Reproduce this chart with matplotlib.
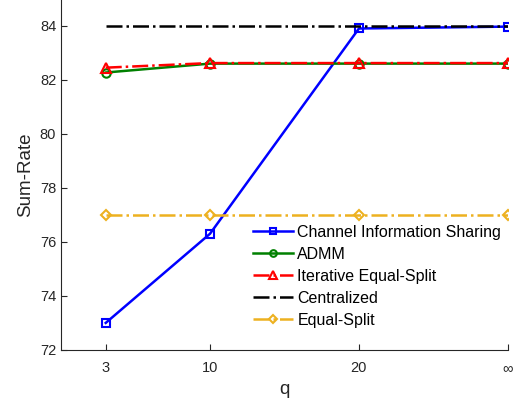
import matplotlib
matplotlib.use("Agg")
import matplotlib.pyplot as plt

plt.rcParams['font.family'] = ['Liberation Sans', 'DejaVu Sans']

q_pos = [3, 10, 20, 30]
q_labels = ['3', '10', '20', '∞']
cis = [73.0, 76.3, 83.9, 83.97]
admm = [82.27, 82.6, 82.6, 82.6]
ies = [82.45, 82.62, 82.62, 82.62]
central = [84.0, 84.0, 84.0, 84.0]
equal = [77.0, 77.0, 77.0, 77.0]
yticks = [72, 74, 76, 78, 80, 82, 84]

fig = plt.figure(figsize=(5.13, 4.05), dpi=100)
ax = fig.add_axes([0.119, 0.136, 0.871, 0.867])

ax.plot(q_pos, cis, '-s', color='#0000FF', lw=1.8, ms=6, mfc='none', mew=1.5,
        label='Channel Information Sharing')
ax.plot(q_pos, admm, '-o', color='#008000', lw=1.8, ms=6, mfc='none', mew=1.5,
        label='ADMM')
ax.plot(q_pos, ies, '-.^', color='#FF0000', lw=1.8, ms=7, mfc='none', mew=1.5,
        label='Iterative Equal-Split')
ax.plot(q_pos, central, '-.', color='black', lw=1.8, label='Centralized')
ax.plot(q_pos, equal, '-.D', color='#EDB120', lw=1.8, ms=5.5, mfc='none', mew=1.5,
        label='Equal-Split')

ax.set_xlim(0, 30)
ax.set_ylim(72, 85)
ax.set_xticks(q_pos)
ax.set_xticklabels(q_labels)
ax.set_yticks(yticks)
ax.tick_params(direction='in', labelsize=10.5, colors='#262626', length=4)
ax.tick_params(axis='x', pad=8)
for s in ['top', 'right']:
    ax.spines[s].set_visible(False)
for s in ['left', 'bottom']:
    ax.spines[s].set_color('#262626')
ax.set_xlabel('q', fontsize=13.5, color='#262626')
ax.set_ylabel('Sum-Rate', fontsize=13.5, color='#262626')

ax.legend(loc='lower right', bbox_to_anchor=(1.01, 0.031), frameon=False,
          fontsize=11.5, handlelength=2.5, handletextpad=0.25, labelspacing=0.44,
          borderaxespad=0.3, markerscale=0.8)

fig.savefig('out.png', dpi=100)
